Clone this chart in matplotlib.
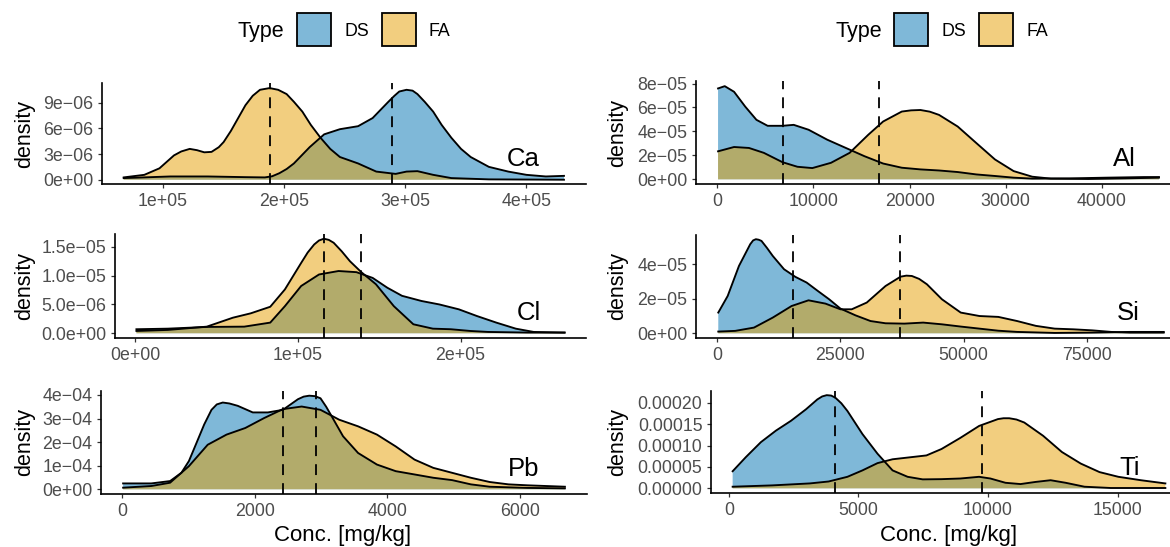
import numpy as np
import matplotlib
matplotlib.use("Agg")
import matplotlib.pyplot as plt
from matplotlib.patches import Rectangle

plt.rcParams["font.family"] = ["Liberation Sans", "DejaVu Sans"]

W, H = 1170, 547
DS_COL = (0 / 255, 114 / 255, 178 / 255, 0.5)
FA_COL = (230 / 255, 159 / 255, 0 / 255, 0.5)

# --- densidades por elemento (x en mg/kg) ---
ca_ds_x = np.array([0.675, 1.06, 1.37, 1.68, 1.84, 1.90, 1.96, 2.02, 2.08, 2.21, 2.33, 2.46, 2.61,
                    2.73, 2.86, 2.91, 2.95, 3.01, 3.06, 3.10, 3.16, 3.23, 3.30, 3.38, 3.46, 3.54,
                    3.69, 3.85, 4.0, 4.16, 4.31]) * 1e5
ca_ds_y = np.array([0.19, 0.38, 0.38, 0.30, 0.27, 0.4, 0.76, 1.25, 1.9, 3.8, 5.3, 5.9, 6.25,
                    7.2, 9.1, 9.8, 10.3, 10.5, 10.4, 10.0, 9.1, 7.95, 6.4, 4.9, 3.6, 2.65,
                    1.5, 0.95, 0.57, 0.38, 0.45]) * 1e-6
ca_fa_x = np.array([0.675, 0.845, 0.97, 1.09, 1.15, 1.22, 1.28, 1.34, 1.40, 1.46, 1.50, 1.56,
                    1.62, 1.68, 1.74, 1.80, 1.88, 1.95, 2.02, 2.08, 2.15, 2.22, 2.30, 2.38,
                    2.46, 2.61, 2.76, 2.92, 3.01, 3.10, 3.23, 3.38, 3.69, 4.31]) * 1e5
ca_fa_y = np.array([0.27, 0.57, 1.33, 2.84, 3.3, 3.6, 3.45, 3.2, 3.25, 3.8, 4.4, 5.7,
                    7.2, 8.7, 9.8, 10.5, 10.7, 10.5, 10.0, 9.1, 7.95, 6.4, 4.9, 3.6,
                    2.65, 1.9, 0.95, 0.68, 0.95, 1.0, 0.57, 0.19, 0.04, 0.0]) * 1e-6
ca_med = {"DS": 2.89e5, "FA": 1.88e5}

cl_ds_x = np.array([0.007, 0.20, 0.44, 0.67, 0.83, 0.92, 1.02, 1.13, 1.25, 1.36, 1.46, 1.55,
                    1.64, 1.76, 1.87, 1.99, 2.10, 2.22, 2.34, 2.45, 2.64]) * 1e5
cl_ds_y = np.array([0.7, 0.8, 1.1, 1.15, 1.85, 4.7, 8.2, 10.2, 10.8, 10.6, 9.6, 7.9,
                    6.5, 5.6, 5.0, 4.15, 3.0, 1.85, 0.8, 0.23, 0.12]) * 1e-6
cl_fa_x = np.array([0.007, 0.20, 0.44, 0.60, 0.71, 0.83, 0.92, 1.02, 1.06, 1.10, 1.13, 1.16,
                    1.19, 1.22, 1.27, 1.32, 1.39, 1.48, 1.59, 1.71, 1.83, 1.94, 2.06, 2.17,
                    2.41, 2.64]) * 1e5
cl_fa_y = np.array([0.4, 0.58, 1.15, 2.7, 3.46, 4.6, 7.6, 12.2, 14.0, 15.4, 16.1, 16.4,
                    16.2, 15.7, 14.2, 12.5, 10.6, 8.5, 4.7, 1.56, 0.8, 0.7, 0.4, 0.23,
                    0.12, 0.12]) * 1e-6
cl_med = {"DS": 1.39e5, "FA": 1.16e5}

pb_ds_x = np.array([17, 442, 726, 896, 1010, 1123, 1240, 1350, 1430, 1520, 1620, 1746, 1973,
                    2200, 2427, 2654, 2740, 2824, 2910, 2994, 3080, 3164, 3334, 3561, 3845,
                    4128, 4412, 4695, 4979, 5262, 5546, 6113, 6680])
pb_ds_y = np.array([0.25, 0.25, 0.35, 0.70, 1.2, 1.96, 2.75, 3.37, 3.6, 3.68, 3.64, 3.54, 3.26,
                    3.26, 3.37, 3.82, 3.93, 3.97, 3.95, 3.86, 3.5, 3.09, 2.25, 1.54, 1.05,
                    0.77, 0.63, 0.49, 0.39, 0.21, 0.11, 0.06, 0.04]) * 1e-4
pb_fa_x = np.array([17, 442, 726, 1009, 1293, 1577, 1860, 2143, 2427, 2710, 2994, 3277,
                    3561, 3845, 4128, 4412, 4695, 4979, 5262, 5546, 5830, 6113, 6680])
pb_fa_y = np.array([0.07, 0.14, 0.28, 0.98, 1.89, 2.32, 2.60, 3.02, 3.40, 3.51, 3.37, 2.95,
                    2.67, 2.32, 1.82, 1.26, 0.91, 0.70, 0.49, 0.31, 0.21, 0.17, 0.11]) * 1e-4
pb_med = {"DS": 2926, "FA": 2427}

al_ds_x = np.array([78, 775, 1744, 2907, 4070, 5233, 6783, 7946, 9496, 11434, 13372, 15310,
                    17248, 19186, 21124, 23062, 25000, 26938, 28876, 30814, 32752, 36628,
                    40504, 44380, 45930])
al_ds_y = np.array([7.59, 7.78, 7.31, 6.07, 4.97, 4.47, 4.47, 4.55, 4.14, 3.31, 2.62, 1.93,
                    1.32, 0.97, 0.83, 0.74, 0.61, 0.41, 0.28, 0.14, 0.06, 0.08,
                    0.14, 0.19, 0.19]) * 1e-5
al_fa_x = np.array([78, 1744, 3295, 4845, 6783, 8333, 9884, 11822, 13760, 15698, 17248, 19186,
                    20150, 21124, 22100, 23062, 25000, 26938, 28876, 30814, 32752, 34690,
                    38566, 42442, 45930])
al_fa_y = np.array([2.34, 2.70, 2.62, 2.21, 1.43, 1.05, 0.94, 1.38, 2.21, 3.72, 4.83, 5.66,
                    5.76, 5.79, 5.65, 5.38, 4.41, 3.03, 1.66, 0.69, 0.22, 0.06,
                    0.03, 0.08, 0.14]) * 1e-5
al_med = {"DS": 6860, "FA": 16783}

si_ds_x = np.array([229, 2136, 4425, 6713, 7300, 7858, 8430, 9002, 10100, 11290, 13579, 15868,
                    18157, 20445, 22734, 25023, 28074, 31126, 34178, 37992, 41807, 45622,
                    49436, 53250, 57065, 60880, 68508, 76137, 83766, 90632])
si_ds_y = np.array([1.20, 2.16, 3.90, 5.16, 5.38, 5.45, 5.42, 5.35, 4.95, 4.48, 3.71, 3.27,
                    2.94, 2.45, 1.97, 1.43, 1.04, 0.71, 0.58, 0.56, 0.62, 0.52,
                    0.39, 0.27, 0.15, 0.08, 0.02, 0.04, 0.08, 0.08]) * 1e-5
si_fa_x = np.array([229, 3662, 7476, 11290, 15105, 18538, 21971, 25023, 27312, 30363, 34178,
                    37230, 38400, 39519, 41000, 42570, 45622, 49436, 53250, 57065, 60880,
                    64694, 68508, 72323, 76137, 79951, 83766, 90632])
si_fa_y = np.array([0.10, 0.14, 0.33, 0.91, 1.58, 1.91, 1.72, 1.39, 1.39, 1.78, 2.74,
                    3.28, 3.34, 3.32, 3.15, 2.84, 1.97, 1.20, 1.00, 0.95, 0.71,
                    0.43, 0.27, 0.23, 0.17, 0.08, 0.04, 0.04]) * 1e-5
si_med = {"DS": 15334, "FA": 37076}

ti_ds_x = np.array([145, 654, 1234, 1815, 2396, 2977, 3413, 3600, 3776, 3950, 4110, 4340, 4575,
                    5155, 5736, 6317, 6898, 7479, 8205, 8931, 9657, 10093, 10674, 11255,
                    11835, 12417, 12997, 13723, 14740, 16845])
ti_ds_y = np.array([4.0, 7.3, 10.8, 13.5, 15.8, 18.5, 20.8, 21.5, 21.8, 21.7, 21.2, 19.9, 18.1,
                    12.7, 8.1, 4.2, 2.7, 2.1, 2.15, 2.3, 2.7, 2.3, 1.3, 1.0,
                    1.5, 1.9, 1.3, 0.38, 0.08, 0.08]) * 1e-5
ti_fa_x = np.array([145, 1670, 3122, 3848, 4575, 5155, 5736, 6317, 7043, 7624, 8205, 8931,
                    9657, 10383, 10600, 10819, 11100, 11400, 12126, 12852, 13578, 14304,
                    15030, 15901, 16845])
ti_fa_y = np.array([0.38, 0.69, 1.15, 1.6, 2.7, 4.2, 5.9, 6.8, 7.3, 7.7, 9.2, 11.8,
                    14.6, 16.2, 16.4, 16.4, 16.1, 15.4, 12.3, 8.5, 5.8, 3.8,
                    2.7, 1.9, 1.15]) * 1e-5
ti_med = {"DS": 4110, "FA": 9758}

# ejes: valores y etiquetas
ca_yt, ca_yl = [0, 3e-6, 6e-6, 9e-6], ["0e+00", "3e\u221206", "6e\u221206", "9e\u221206"]
ca_xt, ca_xl = [1e5, 2e5, 3e5, 4e5], ["1e+05", "2e+05", "3e+05", "4e+05"]
cl_yt, cl_yl = [0, 5e-6, 1e-5, 1.5e-5], ["0.0e+00", "5.0e\u221206", "1.0e\u221205", "1.5e\u221205"]
cl_xt, cl_xl = [0, 1e5, 2e5], ["0e+00", "1e+05", "2e+05"]
pb_yt, pb_yl = [0, 1e-4, 2e-4, 3e-4, 4e-4], ["0e+00", "1e\u221204", "2e\u221204", "3e\u221204", "4e\u221204"]
pb_xt, pb_xl = [0, 2000, 4000, 6000], ["0", "2000", "4000", "6000"]
al_yt, al_yl = [0, 2e-5, 4e-5, 6e-5, 8e-5], ["0e+00", "2e\u221205", "4e\u221205", "6e\u221205", "8e\u221205"]
al_xt, al_xl = [0, 10000, 20000, 30000, 40000], ["0", "10000", "20000", "30000", "40000"]
si_yt, si_yl = [0, 2e-5, 4e-5], ["0e+00", "2e\u221205", "4e\u221205"]
si_xt, si_xl = [0, 25000, 50000, 75000], ["0", "25000", "50000", "75000"]
ti_yt, ti_yl = [0, 5e-5, 1e-4, 1.5e-4, 2e-4], ["0.00000", "0.00005", "0.00010", "0.00015", "0.00020"]
ti_xt, ti_xl = [0, 5000, 10000, 15000], ["0", "5000", "10000", "15000"]

fig = plt.figure(figsize=(W / 100, H / 100), dpi=100)


def fx(x):
    return x / W


def fy(y):
    return 1 - y / H


def panel(box, elem, ds, fa, med, xt, xl, yt, yl, lab_xy):
    l, t, r, b = box
    ax = fig.add_axes([fx(l), fy(b), (r - l) / W, (b - t) / H])
    for (x, y), col in ((ds, DS_COL), (fa, FA_COL)):
        ax.fill_between(x, y, 0, facecolor=col, linewidth=0)
        ax.plot(x, y, color="black", lw=1.35, solid_joinstyle="round")
    for k in ("DS", "FA"):
        ax.axvline(med[k], color="black", lw=1.3, ls=(0, (6, 4.5)))
    ax.margins(x=0.05, y=0.05)
    ax.set_xticks(xt, xl)
    ax.set_yticks(yt, yl)
    for s in ("top", "right"):
        ax.spines[s].set_visible(False)
    for s in ("left", "bottom"):
        ax.spines[s].set_linewidth(1.2)
    ax.tick_params(length=3.2, width=0.9, color="#333333", labelsize=12.8,
                   labelcolor="#4D4D4D", pad=3)
    fig.text(fx(lab_xy[0]), fy(lab_xy[1]), elem, fontsize=18.5, ha="right", va="baseline")
    fig.text(fx(lab_xy[2]), fy((t + b) / 2), "density", fontsize=15.5, rotation=90,
             ha="center", va="center")
    return ax


panel((101.7, 83.5, 586, 184.3), "Ca", (ca_ds_x, ca_ds_y), (ca_fa_x, ca_fa_y), ca_med,
      ca_xt, ca_xl, ca_yt, ca_yl, (540, 166, 25))
panel((115, 234, 586, 338), "Cl", (cl_ds_x, cl_ds_y), (cl_fa_x, cl_fa_y), cl_med,
      cl_xt, cl_xl, cl_yt, cl_yl, (541, 320, 25))
panel((101, 391, 587, 494), "Pb", (pb_ds_x, pb_ds_y), (pb_fa_x, pb_fa_y), pb_med,
      pb_xt, pb_xl, pb_yt, pb_yl, (539.5, 476.5, 25))
panel((696, 81.5, 1181, 184), "Al", (al_ds_x, al_ds_y), (al_fa_x, al_fa_y), al_med,
      al_xt, al_xl, al_yt, al_yl, (1136, 166.5, 618))
panel((696, 234.5, 1186, 338), "Si", (si_ds_x, si_ds_y), (si_fa_x, si_fa_y), si_med,
      si_xt, si_xl, si_yt, si_yl, (1139.5, 320.5, 618))
panel((711, 390.5, 1187, 493), "Ti", (ti_ds_x, ti_ds_y), (ti_fa_x, ti_fa_y), ti_med,
      ti_xt, ti_xl, ti_yt, ti_yl, (1139.5, 475, 618))

for cx in (343, 949):
    fig.text(fx(cx), fy(541), "Conc. [mg/kg]", fontsize=16, ha="center", va="baseline")

# leyenda "Type" arriba de cada columna
for dx in (0, 597.5):
    fig.text(fx(237.6 + dx), fy(31), "Type", fontsize=15.5, ha="left", va="center")
    for x0, col, name in ((297 + dx, DS_COL, "DS"), (381.6 + dx, FA_COL, "FA")):
        fig.add_artist(Rectangle((fx(x0), fy(45.7)), 34 / W, 33 / H, transform=fig.transFigure,
                                 facecolor=col, edgecolor="black", linewidth=1.3))
        fig.text(fx(x0 + 47), fy(31), name, fontsize=12.8, ha="left", va="center")

fig.savefig("out.png", dpi=100)
